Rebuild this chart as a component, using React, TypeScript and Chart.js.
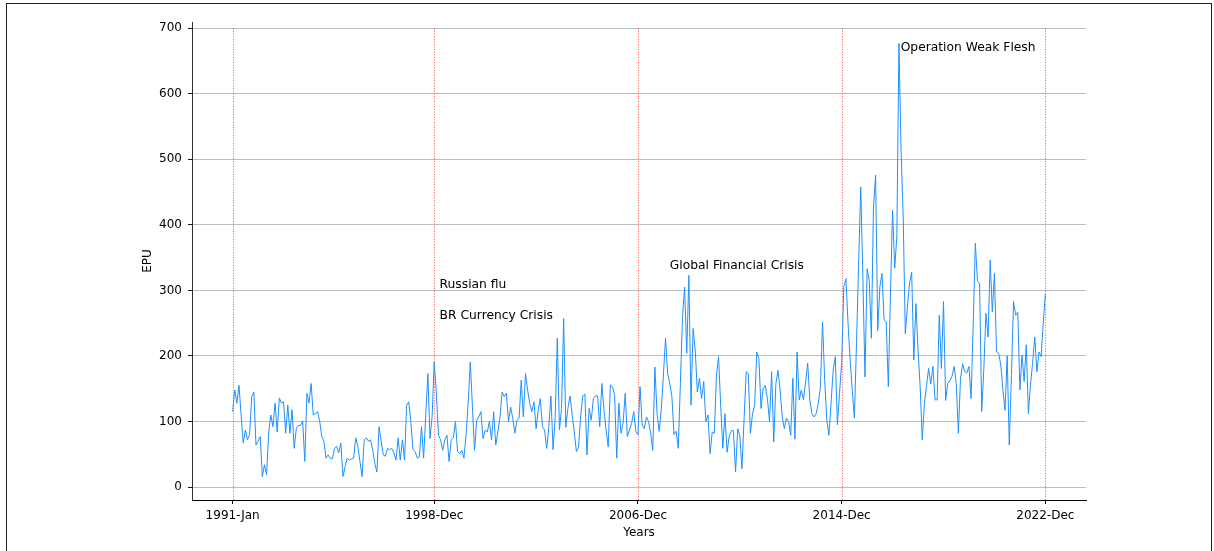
import React, { useEffect, useRef } from "react";
import { Chart, registerables } from "chart.js";

Chart.register(...registerables);

// Monthly EPU values, 1991-Jan .. 2022-Dec (one row per year)
const epu: number[] = [
  115, 148, 128, 155, 110, 67, 87, 72, 80, 138, 145, 64,
  70, 77, 16, 34, 19, 84, 110, 92, 128, 84, 136, 128,
  130, 82, 125, 82, 118, 59, 89, 94, 94, 101, 39, 143,
  128, 158, 110, 112, 115, 101, 77, 70, 44, 49, 44, 43,
  59, 62, 52, 67, 16, 31, 44, 41, 43, 44, 75, 62,
  39, 16, 72, 75, 70, 72, 57, 36, 23, 92, 70, 49,
  47, 59, 57, 59, 52, 41, 75, 41, 72, 41, 125, 130,
  98, 57, 54, 44, 46, 92, 44, 110, 173, 74, 107, 191,
  143, 79, 72, 56, 72, 79, 39, 72, 75, 100, 54, 51,
  56, 44, 79, 128, 191, 122, 56, 102, 107, 115, 74, 87,
  84, 100, 72, 115, 64, 84, 107, 145, 138, 143, 100, 122,
  105, 82, 102, 105, 163, 107, 173, 148, 128, 115, 130, 89,
  117, 135, 92, 87, 59, 92, 139, 57, 106, 227, 87, 120,
  257, 91, 120, 139, 110, 84, 54, 61, 107, 139, 142, 49,
  120, 102, 135, 139, 139, 92, 158, 117, 87, 61, 156, 153,
  140, 44, 128, 82, 97, 143, 77, 87, 97, 115, 85, 80,
  153, 95, 89, 107, 100, 82, 56, 183, 112, 85, 118, 171,
  227, 173, 158, 138, 80, 85, 59, 158, 260, 305, 204, 323,
  125, 242, 209, 145, 166, 135, 161, 100, 110, 51, 84, 82,
  171, 199, 124, 59, 112, 53, 77, 86, 86, 23, 89, 79,
  28, 102, 176, 173, 82, 112, 125, 206, 196, 120, 150, 155,
  135, 100, 176, 69, 158, 178, 148, 107, 89, 105, 100, 79,
  166, 73, 206, 133, 148, 133, 160, 189, 133, 112, 107, 112,
  128, 153, 252, 163, 102, 79, 128, 178, 199, 95, 143, 190,
  305, 318, 250, 194, 148, 105, 220, 340, 458, 320, 168, 333,
  315, 227, 427, 476, 239, 305, 326, 255, 252, 153, 296, 422,
  334, 382, 677, 514, 412, 234, 275, 311, 328, 194, 280, 209,
  153, 72, 128, 155, 181, 157, 184, 133, 133, 262, 181, 283,
  132, 158, 162, 169, 184, 158, 82, 165, 188, 176, 174, 184,
  135, 250, 372, 315, 310, 115, 180, 265, 229, 346, 267, 326,
  206, 204, 186, 148, 117, 200, 64, 170, 283, 262, 267, 148,
  201, 161, 217, 112, 156, 190, 229, 176, 206, 199, 250, 295,
];

const tickIndices: number[] = [0, 95, 191, 287, 383];
const tickLabels: string[] = ["1991-Jan", "1998-Dec", "2006-Dec", "2014-Dec", "2022-Dec"];
const yTicks: number[] = [0, 100, 200, 300, 400, 500, 600, 700];

const eventLabels: string[] = ["Russian flu", "BR Currency Crisis", "Global Financial Crisis", "Operation Weak Flesh"];
const eventX: number[] = [97.5, 97.5, 206, 314.8];
const eventY: number[] = [303, 256, 332, 666];
const vlineTop = 700;

const FONT = "'DejaVu Sans', sans-serif";

const overlayPlugin = {
  id: "overlay",
  beforeDatasetsDraw(chart: any) {
    const { ctx, chartArea, scales } = chart;
    ctx.save();
    ctx.strokeStyle = "rgba(255,0,0,0.85)";
    ctx.lineWidth = 0.8;
    ctx.setLineDash([1, 1.6]);
    const yTop = scales.y.getPixelForValue(vlineTop);
    tickIndices.forEach((i) => {
      const x = Math.round(scales.x.getPixelForValue(i)) + 0.5;
      ctx.beginPath();
      ctx.moveTo(x, yTop);
      ctx.lineTo(x, chartArea.bottom);
      ctx.stroke();
    });
    ctx.restore();
  },
  afterDatasetsDraw(chart: any) {
    const { ctx, scales } = chart;
    ctx.save();
    ctx.fillStyle = "#000";
    ctx.font = `12.3px ${FONT}`;
    ctx.textAlign = "left";
    ctx.textBaseline = "alphabetic";
    eventLabels.forEach((t, k) => {
      ctx.fillText(t, scales.x.getPixelForValue(eventX[k]), scales.y.getPixelForValue(eventY[k]));
    });
    ctx.restore();
  },
};

export default function App() {
  const ref = useRef<HTMLCanvasElement | null>(null);
  useEffect(() => {
    if (!ref.current) return;
    const chart = new Chart(ref.current, {
      type: "line",
      data: {
        datasets: [
          {
            data: epu.map((v, i) => ({ x: i, y: v })),
            borderColor: "#1e90ff",
            borderWidth: 1,
            pointRadius: 0,
            tension: 0,
            fill: false,
          },
        ],
      },
      options: {
        responsive: false,
        animation: false,
        events: [],
        layout: { padding: { left: 141, right: 128, top: 22, bottom: 11 } },
        plugins: { legend: { display: false }, tooltip: { enabled: false } },
        scales: {
          x: {
            type: "linear",
            min: -19.15,
            max: 402.15,
            afterBuildTicks: (s: any) => {
              s.ticks = tickIndices.map((v) => ({ value: v }));
            },
            afterFit: (s: any) => {
              s.height = 40;
            },
            ticks: {
              callback: (_v: any, i: number) => tickLabels[i],
              font: { family: FONT, size: 12 },
              color: "#000",
              padding: 5,
              maxRotation: 0,
              autoSkip: false,
            },
            grid: { drawOnChartArea: false, drawTicks: true, tickLength: 4, tickColor: "#000", color: "#000" },
            border: { color: "#000", width: 1 },
            title: { display: true, text: "Years", font: { family: FONT, size: 12 }, color: "#000", padding: 0 },
          },
          y: {
            type: "linear",
            min: -19.8,
            max: 709.6,
            afterBuildTicks: (s: any) => {
              s.ticks = yTicks.map((v) => ({ value: v }));
            },
            afterFit: (s: any) => {
              s.width = 51;
            },
            ticks: {
              font: { family: FONT, size: 12 },
              color: "#000",
              padding: 6,
            },
            grid: { color: "#aeb7bf", lineWidth: 0.9, tickLength: 4, tickColor: "#000" },
            border: { color: "#333", width: 1 },
            title: { display: true, text: "EPU", font: { family: FONT, size: 12 }, color: "#000", padding: 0 },
          },
        },
      },
      plugins: [overlayPlugin],
    } as any);
    return () => chart.destroy();
  }, []);

  return (
    <div style={{ position: "fixed", left: 0, top: 0, width: 1214, height: 551, background: "#fff", overflow: "hidden" }}>
      <canvas ref={ref} width={1214} height={551} style={{ position: "absolute", left: 0, top: 0, width: 1214, height: 551 }} />
      <div
        style={{
          position: "absolute",
          left: 6,
          top: 3,
          width: 1206,
          height: 600,
          border: "1px solid #222",
          boxSizing: "border-box",
          pointerEvents: "none",
        }}
      />
    </div>
  );
}
